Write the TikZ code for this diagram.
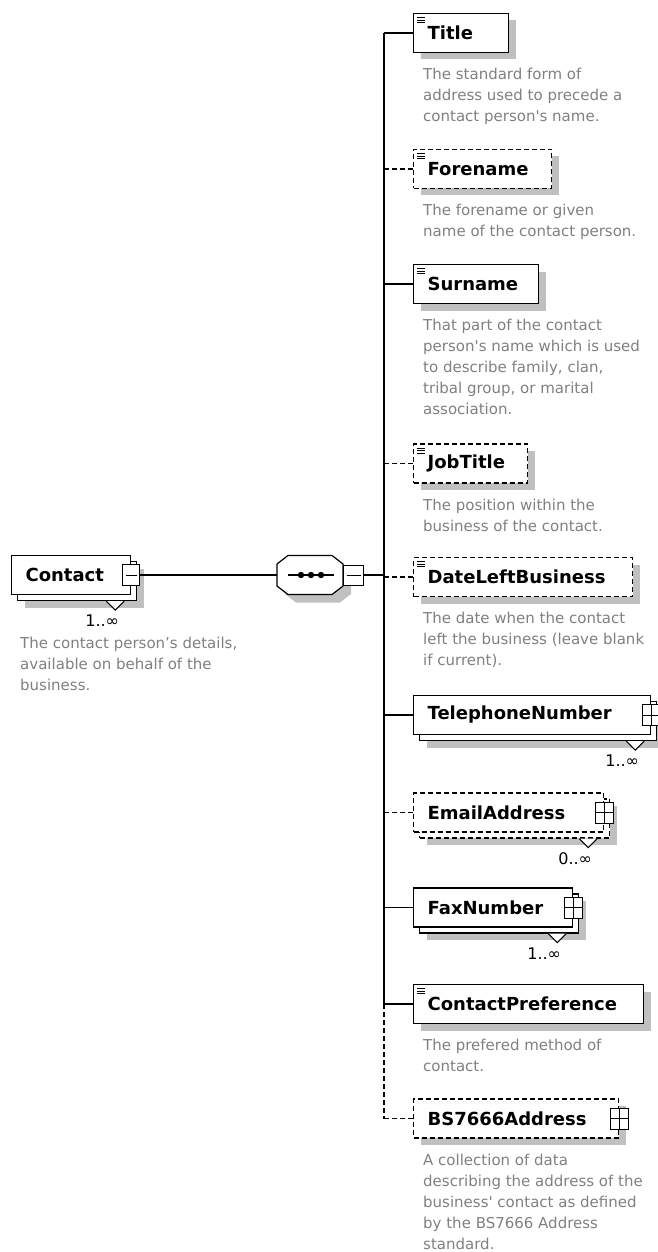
\documentclass[tikz,border=0pt]{standalone}
\usepackage{fontspec}
\setmainfont{DejaVu Sans}[Ligatures=TeXOff]
\usetikzlibrary{shadows}

\definecolor{shadegrey}{RGB}{192,192,192}
\definecolor{notegrey}{RGB}{128,128,128}
\newcommand\elemfont{\fontsize{18}{22}\selectfont\bfseries}
\newcommand\notefont{\fontsize{15}{21}\selectfont}
\newcommand\occfont{\fontsize{16}{18}\selectfont}

\begin{document}
\begin{tikzpicture}[x=1pt, y=-1pt,
  box/.style={draw=black, fill=white, line width=1.2pt, anchor=west, minimum height=39pt, inner xsep=14pt, inner ysep=0pt, align=left, font=\elemfont},
  single/.style={box, drop shadow={shadow xshift=7pt, shadow yshift=-7pt, fill=shadegrey, opacity=1}},
  multi/.style={box, drop shadow={shadow xshift=13pt, shadow yshift=-13pt, fill=shadegrey, opacity=1}, copy shadow={shadow xshift=6pt, shadow yshift=-6pt, draw=black, fill=white, line width=1.2pt, #1}},
  multi/.default=solid,
  optional/.style={dash pattern=on 5pt off 3pt},
  simple/.style={path picture={
    \draw[solid, line width=0.9pt] ([shift={(3,4)}]path picture bounding box.north west) -- ++(8,0)
      ([shift={(3,6.5)}]path picture bounding box.north west) -- ++(8,0)
      ([shift={(3,9)}]path picture bounding box.north west) -- ++(8,0);}},
  plusbox/.style={draw=black, fill=white, line width=1pt, minimum width=18pt, minimum height=21pt, inner sep=0pt, path picture={
    \draw[line width=1pt] (path picture bounding box.west) -- (path picture bounding box.east)
      (path picture bounding box.north) -- (path picture bounding box.south);}},
  minusbox/.style={draw=black, fill=white, line width=1pt, minimum width=17pt, minimum height=21pt, inner sep=0pt, path picture={
    \draw[line width=1pt, shorten <=3pt, shorten >=3pt] (path picture bounding box.west) -- (path picture bounding box.east);}},
  note/.style={anchor=north west, inner sep=0pt, align=left, text=notegrey, font=\notefont},
  occ/.style={inner sep=0pt, font=\occfont},
  conn/.style={line width=1.3pt}]

\useasboundingbox (0,0) rectangle (658,1252);

% root element and sequence
\node[multi, text width=91pt] (contact) at (11,575) {Contact};
\node[minusbox] (contactminus) at (contact.east) {};
\node[minimum width=66pt, minimum height=39pt, inner sep=0pt] (seq) at (310,575) {};
\fill[shadegrey, shift={(seq.center)}, shift={(8,8)}] (-22,-19.5) -- (22,-19.5) -- (33,-11) -- (33,11) -- (22,19.5) -- (-22,19.5) -- (-33,11) -- (-33,-11) -- cycle;
\draw[fill=white, line width=1.2pt, shift={(seq.center)}] (-22,-19.5) -- (22,-19.5) -- (33,-11) -- (33,11) -- (22,19.5) -- (-22,19.5) -- (-33,11) -- (-33,-11) -- cycle;
\node[minusbox, anchor=west, minimum width=20pt, minimum height=20pt] (seqminus) at (seq.east) {};
\coordinate (bus) at (384,575);

\draw[line width=1.2pt] ([xshift=-22pt]seq.center) -- ([xshift=24pt]seq.center);
\fill ([xshift=-9pt]seq.center) circle (3.2pt);
\fill ([xshift=1pt]seq.center) circle (3.2pt);
\fill ([xshift=11pt]seq.center) circle (3.2pt);

% child elements
\node[single, simple, text width=67pt] (title) at (413,33) {Title};
\node[single, simple, optional, text width=110pt] (forename) at (413,169) {Forename};
\node[single, simple, text width=97pt] (surname) at (413,284) {Surname};
\node[single, simple, optional, text width=86pt] (jobtitle) at (413,463.5) {JobTitle};
\node[single, simple, optional, text width=191pt] (dlb) at (413,577) {DateLeftBusiness};
\node[multi, text width=209pt] (tel) at (413,715) {TelephoneNumber};
\node[multi=optional, optional, text width=162pt] (email) at (413,812.5) {EmailAddress};
\node[multi, text width=131pt] (fax) at (413,907.5) {FaxNumber};
\node[single, simple, text width=202pt] (cpref) at (413,1004) {ContactPreference};
\node[single, optional, text width=177pt] (bsaddr) at (413,1118.5) {BS7666Address};

\node[plusbox] (telplus) at (tel.east) {};
\node[plusbox] (emailplus) at (email.east) {};
\node[plusbox] (faxplus) at (fax.east) {};
\node[plusbox] (bsaddrplus) at (bsaddr.east) {};

% connectors
\draw[conn] (contactminus.east) -- (seq.west);
\draw[conn] (seqminus.east) -- (seqminus.east -| bus);
\draw[conn] (bus |- title.west) -- (bus |- cpref.west);
\draw[conn, optional] (bus |- cpref.west) -- (bus |- bsaddr.west);
\foreach \n in {title,surname,tel,fax,cpref}
  \draw[conn] (bus |- \n.west) -- (\n.west);
\foreach \n in {forename,jobtitle,dlb,email,bsaddr}
  \draw[conn, optional] (bus |- \n.west) -- (\n.west);

% occurrences
\draw[fill=white, line width=1pt] ([shift={(-25,6)}]contact.south east) -- ([shift={(-16,15)}]contact.south east) -- ([shift={(-7,6)}]contact.south east);
\draw[fill=white, line width=1pt] ([shift={(-25,6)}]tel.south east) -- ([shift={(-16,15)}]tel.south east) -- ([shift={(-7,6)}]tel.south east);
\draw[fill=white, line width=1pt] ([shift={(-25,6)}]email.south east) -- ([shift={(-16,15)}]email.south east) -- ([shift={(-7,6)}]email.south east);
\draw[fill=white, line width=1pt] ([shift={(-25,6)}]fax.south east) -- ([shift={(-16,15)}]fax.south east) -- ([shift={(-7,6)}]fax.south east);
\node[occ] (contactocc) at ([shift={(-29,26)}]contact.south east) {1..∞};
\node[occ] (telocc) at ([shift={(-29,26)}]tel.south east) {1..∞};
\node[occ] (emailocc) at ([shift={(-29,26)}]email.south east) {0..∞};
\node[occ] (faxocc) at ([shift={(-29,26)}]fax.south east) {1..∞};

% annotations
\node[note] (contactnote) at ([shift={(9,42)}]contact.south west) {The contact person’s details,\\available on behalf of the\\business.};
\node[note] (titlenote) at ([shift={(10,15)}]title.south west) {The standard form of\\address used to precede a\\contact person's name.};
\node[note] (forenamenote) at ([shift={(10,15)}]forename.south west) {The forename or given\\name of the contact person.};
\node[note] (surnamenote) at ([shift={(10,15)}]surname.south west) {That part of the contact\\person's name which is used\\to describe family, clan,\\tribal group, or marital\\association.};
\node[note] (jobtitlenote) at ([shift={(10,15)}]jobtitle.south west) {The position within the\\business of the contact.};
\node[note] (dlbnote) at ([shift={(10,15)}]dlb.south west) {The date when the contact\\left the business (leave blank\\if current).};
\node[note] (cprefnote) at ([shift={(10,15)}]cpref.south west) {The prefered method of\\contact.};
\node[note] (bsaddrnote) at ([shift={(10,15)}]bsaddr.south west) {A collection of data\\describing the address of the\\business' contact as defined\\by the BS7666 Address\\standard.};

\end{tikzpicture}
\end{document}
